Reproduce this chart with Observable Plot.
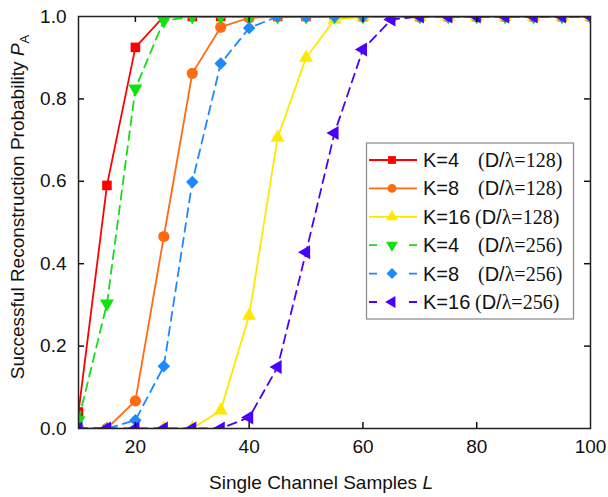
<!DOCTYPE html>
<html><head><meta charset="utf-8">
<script src="https://cdn.jsdelivr.net/npm/d3@7"></script>
<script src="https://cdn.jsdelivr.net/npm/@observablehq/plot@0.6"></script>
<style>
body{margin:0;background:#fff}
#chart{position:relative;width:608px;height:497px}
svg{font-family:"Liberation Sans",Arial,sans-serif}
</style>
</head><body><div id="chart"></div>
<script>
// ---- data ----
const L = [10,15,20,25,30,35,40,45,50,55,60,65,70,75,80,85,90,95,100];
const k4_128  = [0.04,0.59,0.925,1,1,1,1,1,1,1,1,1,1,1,1,1,1,1,1];
const k8_128  = [0,0,0.067,0.466,0.862,0.974,0.997,1,1,1,1,1,1,1,1,1,1,1,1];
const k16_128 = [0,0,0,0,0,0.044,0.274,0.706,0.90,0.992,1,1,1,1,1,1,1,1,1];
const k4_256  = [0.02,0.303,0.825,0.99,1,1,1,1,1,1,1,1,1,1,1,1,1,1,1];
const k8_256  = [0,0,0.02,0.151,0.598,0.886,0.972,1,1,1,1,1,1,1,1,1,1,1,1];
const k16_256 = [0,0,0,0,0,0,0.027,0.149,0.428,0.717,0.92,0.993,1,1,1,1,1,1,1];
const kLabels = ["K=4","K=8","K=16","K=4","K=8","K=16"];
const dLabels = ["128","128","128","256","256","256"];
const xTicks = [20,40,60,80,100];
const yTicks = [0,0.2,0.4,0.6,0.8,1.0];

// ---- styles ----
const series = [
  {v:k4_128,  color:"#ff0000", symbol:"square",   rotate:0,   r:5.4, dash:null},
  {v:k8_128,  color:"#ff6a13", symbol:"circle",   rotate:0,   r:5.6, dash:null},
  {v:k16_128, color:"#ffe800", symbol:"triangle", rotate:0,   r:5.2, dash:null},
  {v:k4_256,  color:"#11e011", symbol:"triangle", rotate:180, r:5.2, dash:"9,6"},
  {v:k8_256,  color:"#1e88ff", symbol:"square",   rotate:45,  r:5.0, dash:"9,6"},
  {v:k16_256, color:"#4a00ff", symbol:"triangle", rotate:-90, r:5.2, dash:"9,6"}
];

const W = 608, H = 497;
const mL = 78, mR = 18, mT = 16, mB = 69;
const pw = W - mL - mR, ph = H - mT - mB;

const marks = [];
series.forEach((s, i) => {
  const data = L.map((x, j) => ({L: x, p: s.v[j]}));
  marks.push(Plot.line(data, {x: "L", y: "p", stroke: s.color, strokeWidth: 1.8,
    strokeDasharray: s.dash, clip: true}));
  marks.push(Plot.dot(data, {x: "L", y: "p", fill: s.color, stroke: "none",
    symbol: s.symbol, rotate: s.rotate, r: s.r, clip: true}));
});

const chart = Plot.plot({
  width: W, height: H,
  marginLeft: mL, marginRight: mR, marginTop: mT, marginBottom: mB,
  style: {fontFamily: '"Liberation Sans", Arial, sans-serif', background: "#fff"},
  x: {domain: [10, 100]},
  y: {domain: [0, 1]},
  marks: [
    ...marks,
    Plot.tickX(xTicks.slice(0, 4), {x: d => d, insetTop: ph - 6, stroke: "#111", strokeWidth: 1.5}),
    Plot.tickX(xTicks.slice(0, 4), {x: d => d, insetBottom: ph - 6, stroke: "#111", strokeWidth: 1.5}),
    Plot.tickY(yTicks.slice(1, 5), {y: d => d, insetRight: pw - 6, stroke: "#111", strokeWidth: 1.5}),
    Plot.tickY(yTicks.slice(1, 5), {y: d => d, insetLeft: pw - 6, stroke: "#111", strokeWidth: 1.5}),
    Plot.frame({stroke: "#222", strokeWidth: 1.5}),
    Plot.axisX(xTicks, {tickSize: 0, tickPadding: 11, fontSize: 19, fill: "#111", label: null}),
    Plot.axisY(yTicks, {tickSize: 0, tickPadding: 12, fontSize: 19, fill: "#111", label: null, tickFormat: d3.format(".1f")})
  ]
});
document.getElementById("chart").appendChild(chart);

// ---- axis titles & legend (drawn onto the same svg) ----
const svg = d3.select(chart);
const xt = svg.append("text").attr("x", 321).attr("y", 489).attr("text-anchor", "middle")
  .attr("font-size", 19).attr("fill", "#111");
xt.append("tspan").text("Single Channel Samples ");
xt.append("tspan").attr("font-style", "italic").text("L");

const yt = svg.append("text").attr("transform", "translate(24,207) rotate(-90)")
  .attr("text-anchor", "middle").attr("font-size", 19).attr("fill", "#111");
yt.append("tspan").text("Successful Reconstruction Probability ");
yt.append("tspan").attr("font-style", "italic").text("P");
yt.append("tspan").attr("font-size", 13).attr("dy", 5).text("A");

const lg = svg.append("g").attr("text-anchor", "start");
lg.append("rect").attr("x", 366.5).attr("y", 143).attr("width", 207).attr("height", 176)
  .attr("fill", "#fff").attr("stroke", "#888").attr("stroke-width", 1.2);
const legSym = {square: d3.symbolSquare, circle: d3.symbolCircle, triangle: d3.symbolTriangle};
series.forEach((s, i) => {
  const cy = 160 + i * 28.4;
  const g = lg.append("g");
  g.append("line").attr("x1", 369).attr("x2", 417).attr("y1", cy).attr("y2", cy)
    .attr("stroke", s.color).attr("stroke-width", 1.8)
    .attr("stroke-dasharray", s.dash ? "8,32" : null);
  g.append("path").attr("d", d3.symbol(legSym[s.symbol], Math.PI * 4.4 * 4.4)())
    .attr("transform", `translate(392,${cy}) rotate(${s.rotate})`).attr("fill", s.color);
  g.append("text").attr("x", 423).attr("y", cy + 7).attr("font-size", 20).attr("fill", "#111")
    .attr("text-anchor", "start").text(kLabels[i]);
  const t = g.append("text").attr("x", kLabels[i].length > 3 ? 475 : 478).attr("y", cy + 7)
    .attr("text-anchor", "start").attr("font-size", 20).attr("fill", "#111");
  t.append("tspan").attr("font-family", '"Liberation Serif", "Times New Roman", serif').text("(");
  t.append("tspan").text("D/");
  t.append("tspan").attr("font-family", '"Liberation Serif", "Times New Roman", serif')
    .text("\u03bb=" + dLabels[i] + ")");
});
</script>
</body></html>
